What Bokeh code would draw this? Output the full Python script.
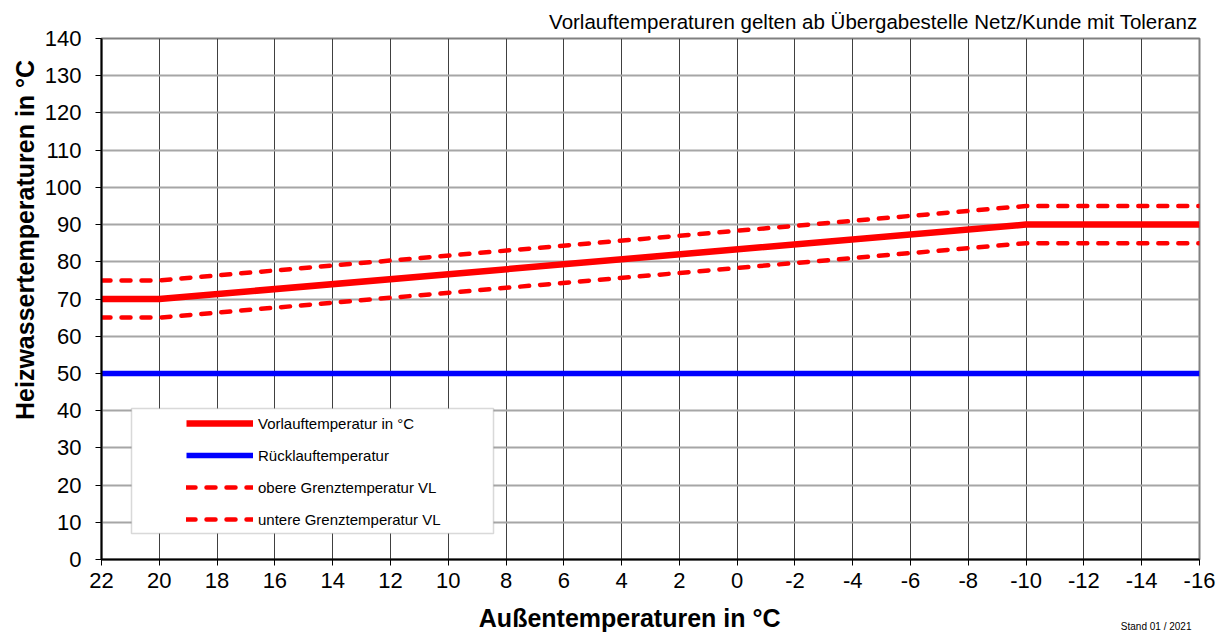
from bokeh.plotting import figure
from bokeh.models import (Range1d, FixedTicker, Legend, LegendItem, BoxAnnotation,
                          LinearAxis, PrintfTickFormatter)
from bokeh.embed import file_html
from bokeh.resources import INLINE

# ---- data ----
aussen = [22, 20, -10, -16]
vorlauf = [70, 70, 90, 90]
ruecklauf = [50, 50, 50, 50]
obere = [75, 75, 95, 95]
untere = [65, 65, 85, 85]
x_ticks = list(range(-16, 23, 2))
y_ticks = list(range(0, 141, 10))

FONT = "Liberation Sans"
NB = "\u00a0"

p = figure(width=1216, height=634, output_backend="svg", toolbar_location=None,
           x_range=Range1d(22, -16), y_range=Range1d(0, 140),
           min_border_left=101, min_border_right=17, min_border_top=38, min_border_bottom=75)

p.title.text = "Vorlauftemperaturen gelten ab Übergabestelle Netz/Kunde mit Toleranz"
p.title.align = "right"
p.title.offset = 2
p.title.text_font = FONT
p.title.text_font_size = "20.5px"
p.title.text_font_style = "normal"
p.title.text_color = "black"
p.title.standoff = 12

p.outline_line_color = "#808080"
p.outline_line_width = 2

for ax, ticks in ((p.xaxis, x_ticks), (p.yaxis, y_ticks)):
    ax.ticker = FixedTicker(ticks=ticks)
    ax.formatter = PrintfTickFormatter(format="%d")
    ax.major_label_text_font = FONT
    ax.major_label_text_font_size = "22px"
    ax.major_label_text_color = "black"
    ax.axis_line_color = "black"
    ax.axis_line_width = 2
    ax.major_tick_line_color = "black"
    ax.major_tick_out = 6
    ax.major_tick_in = 0
    ax.minor_tick_out = 0
    ax.minor_tick_in = 0
p.xaxis.major_label_standoff = 7
p.yaxis.major_label_standoff = 14

p.yaxis.axis_label = NB * 17 + "Heizwassertemperaturen in °C"
p.yaxis.axis_label_text_font = FONT
p.yaxis.axis_label_text_font_size = "25px"
p.yaxis.axis_label_text_font_style = "bold"
p.yaxis.axis_label_text_color = "black"
p.yaxis.axis_label_standoff = 3

# second axis below: carries the "Stand" note and the x axis title on one row
stand_x = -14.5
ax2 = LinearAxis(ticker=FixedTicker(ticks=[stand_x]),
                 major_label_overrides={stand_x: "Stand 01 / 2021"},
                 major_label_text_font=FONT, major_label_text_font_size="10px",
                 major_label_text_color="black", major_label_standoff=30,
                 axis_line_color=None, major_tick_line_color=None,
                 major_tick_out=0, major_tick_in=0, minor_tick_out=0, minor_tick_in=0,
                 axis_label="Außentemperaturen in °C" + NB * 6,
                 axis_label_text_font=FONT, axis_label_text_font_size="25px",
                 axis_label_text_font_style="bold", axis_label_text_color="black",
                 axis_label_standoff=-31)
p.add_layout(ax2, "below")

p.xgrid.grid_line_color = "#404040"
p.xgrid.grid_line_width = 1
p.ygrid.grid_line_color = "#a6a6a6"
p.ygrid.grid_line_width = 2

r_vl = p.line(aussen, vorlauf, line_color="#ff0000", line_width=6.5)
r_rl = p.line(aussen, ruecklauf, line_color="#0000ff", line_width=5.5)
r_ob = p.line(aussen, obere, line_color="#ff0000", line_width=4.5, line_dash="9 11", line_cap="round")
r_un = p.line(aussen, untere, line_color="#ff0000", line_width=4.5, line_dash="9 11", line_cap="round")

box = BoxAnnotation(left=30, right=392, bottom=26, top=151,
                    left_units="screen", right_units="screen",
                    bottom_units="screen", top_units="screen",
                    fill_color="white", fill_alpha=1.0,
                    line_color="#808080", line_width=1.5)
p.add_layout(box)

legend = Legend(items=[
    LegendItem(label="Vorlauftemperatur in °C", renderers=[r_vl]),
    LegendItem(label="Rücklauftemperatur", renderers=[r_rl]),
    LegendItem(label="obere Grenztemperatur VL", renderers=[r_ob]),
    LegendItem(label="untere Grenztemperatur VL", renderers=[r_un]),
], location=(80, 25), margin=0, padding=5, spacing=12,
   glyph_width=67, glyph_height=20, label_height=20, label_standoff=5,
   label_text_font=FONT, label_text_font_size="15px", label_text_color="black",
   border_line_alpha=0, background_fill_alpha=0)
p.add_layout(legend, "center")

open("out.html", "w").write(file_html(p, INLINE))
